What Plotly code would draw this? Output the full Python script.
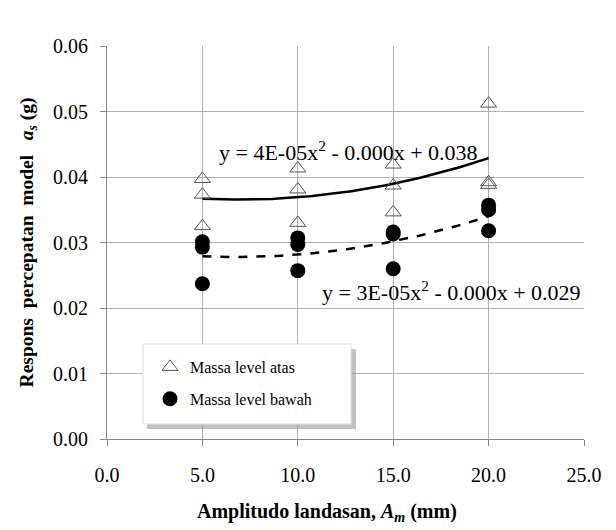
import numpy as np
import plotly.graph_objects as go

# Data
amp_atas = [5, 5, 5, 10, 10, 10, 15, 15, 15, 20, 20, 20]
acc_atas = [0.0397, 0.0373, 0.0325, 0.0413, 0.0381, 0.0330,
            0.0419, 0.0387, 0.0346, 0.0512, 0.0392, 0.0388]
amp_bawah = [5, 5, 5, 10, 10, 10, 15, 15, 15, 20, 20, 20]
acc_bawah = [0.0301, 0.0293, 0.0237, 0.0307, 0.0297, 0.0257,
             0.0316, 0.0313, 0.0260, 0.0357, 0.0350, 0.0318]
x_ticks = [0, 5, 10, 15, 20, 25]
y_ticks = [0.00, 0.01, 0.02, 0.03, 0.04, 0.05, 0.06]
eq_atas = "y = 4E-05x<sup>2</sup> - 0.000x + 0.038"
eq_bawah = "y = 3E-05x<sup>2</sup> - 0.000x + 0.029"
x_title = "<b>Amplitudo landasan, <i>A<sub>m</sub></i> (mm)</b>"
y_title = "<b>Respons  percepatan  model   <i>a<sub>s</sub></i> (g)</b>"

FONT = "Liberation Serif"

xs = np.linspace(min(amp_atas), max(amp_atas), 100)
p_atas = np.polyfit(amp_atas, acc_atas, 2)
p_bawah = np.polyfit(amp_bawah, acc_bawah, 2)

fig = go.Figure()
fig.add_trace(go.Scatter(x=xs, y=np.polyval(p_atas, xs), mode="lines",
                         line=dict(color="black", width=2.5), showlegend=False, hoverinfo="skip"))
fig.add_trace(go.Scatter(x=xs, y=np.polyval(p_bawah, xs), mode="lines",
                         line=dict(color="black", width=2.5, dash="dash"), showlegend=False, hoverinfo="skip"))
fig.add_trace(go.Scatter(x=amp_atas, y=acc_atas, mode="markers", name="Massa level atas",
                         legendgroup="a",
                         marker=dict(symbol="triangle-up-open", size=14, color="#555555",
                                     line=dict(width=1, color="#555555"))))
fig.add_trace(go.Scatter(x=amp_bawah, y=acc_bawah, mode="markers", name="Massa level bawah",
                         legendgroup="b",
                         marker=dict(symbol="circle", size=15, color="black")))

# legend box with shadow (paper coords)
L, R, T, B = 107, 584, 46, 439
W, H = R - L, B - T
def px(x):
    return (x - L) / W
def py(y):
    return (B - y) / H

fig.add_shape(type="rect", xref="paper", yref="paper",
              x0=px(147), x1=px(356), y0=py(429), y1=py(349),
              fillcolor="#9a9a9a", line=dict(width=0), layer="above", opacity=0.6)
fig.add_shape(type="rect", xref="paper", yref="paper",
              x0=px(143), x1=px(351), y0=py(424), y1=py(344),
              fillcolor="white", line=dict(width=1, color="#dddddd"), layer="above")

fig.add_annotation(x=12.65, y=0.0439, text=eq_atas, showarrow=False,
                   font=dict(family=FONT, size=22, color="black"), xref="x", yref="y")
fig.add_annotation(x=18.05, y=0.0226, text=eq_bawah, showarrow=False,
                   font=dict(family=FONT, size=22, color="black"), xref="x", yref="y")
fig.add_annotation(x=px(327), y=py(512), text=x_title, showarrow=False,
                   xref="paper", yref="paper", xanchor="center", yanchor="middle",
                   font=dict(family=FONT, size=20, color="black"))

fig.update_layout(
    width=616, height=530,
    margin=dict(l=L, r=616 - R, t=T, b=530 - B),
    paper_bgcolor="white", plot_bgcolor="white",
    font=dict(family=FONT, size=20, color="black"),
    showlegend=True,
    legend=dict(x=px(150), y=py(350), xanchor="left", yanchor="top",
                bgcolor="rgba(0,0,0,0)", borderwidth=0,
                font=dict(family=FONT, size=16, color="black"),
                tracegroupgap=8, itemwidth=30),
    xaxis=dict(range=[0, 25], tickvals=x_ticks, ticktext=[f"{v:.1f}" for v in x_ticks],
               showgrid=True, gridcolor="#b0b0b0", gridwidth=1,
               showline=True, linecolor="#888888", linewidth=1,
               ticks="outside", ticklen=6, tickcolor="#888888",
               ticklabelstandoff=12,
               tickfont=dict(family=FONT, size=20),
               zeroline=False),
    yaxis=dict(range=[0, 0.06], tickvals=y_ticks, ticktext=[f"{v:.2f}" for v in y_ticks],
               showgrid=True, gridcolor="#b0b0b0", gridwidth=1,
               showline=True, linecolor="#888888", linewidth=1,
               ticks="outside", ticklen=6, tickcolor="#888888",
               ticklabelstandoff=8,
               tickfont=dict(family=FONT, size=20),
               zeroline=False,
               title=dict(text=y_title, font=dict(family=FONT, size=19.5), standoff=14)),
)

fig.write_html("out.html")
